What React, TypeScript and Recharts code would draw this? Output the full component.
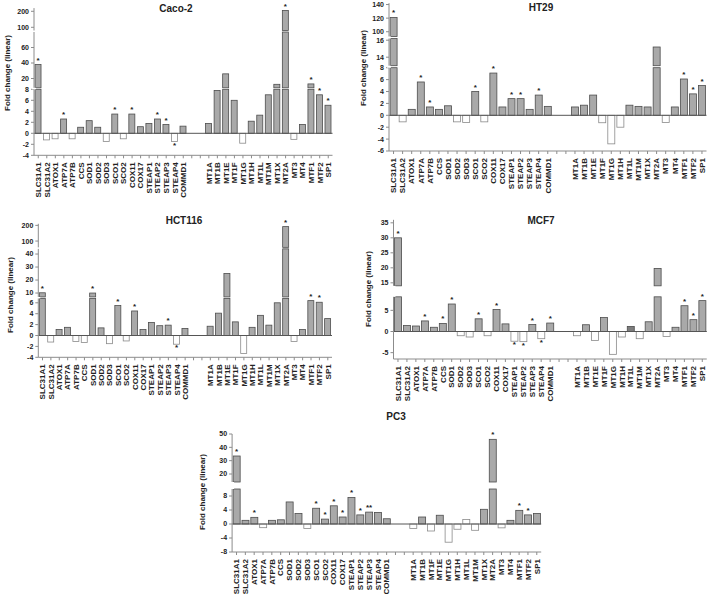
import React from 'react';
import { BarChart, Bar, XAxis, YAxis, ReferenceLine } from 'recharts';

const FONT = '"Liberation Sans", Arial, Helvetica, sans-serif';
const AXIS = '#8c8c8c';
const TEXT = '#222';

const COPPER_GENES = ['SLC31A1', 'SLC31A2', 'ATOX1', 'ATP7A', 'ATP7B', 'CCS', 'SOD1', 'SOD2', 'SOD3', 'SCO1', 'SCO2', 'COX11', 'COX17', 'STEAP1', 'STEAP2', 'STEAP3', 'STEAP4', 'COMMD1'];
const MT_GENES = ['MT1A', 'MT1B', 'MT1E', 'MT1F', 'MT1G', 'MT1H', 'MT1L', 'MT1M', 'MT1X', 'MT2A', 'MT3', 'MT4', 'MTF1', 'MTF2', 'SP1'];
const MT_GENES_PC3 = ['MT1A', 'MT1B', 'MT1F', 'MT1E', 'MT1G', 'MT1H', 'MT1L', 'MT1M', 'MT1X', 'MT2A', 'MT3', 'MT4', 'MTF1', 'MTF2', 'SP1'];

// fold changes
const CACO2_COPPER = [38, -1.2, -1.0, 2.6, -1.0, 1.1, 2.3, 1.1, -1.5, 3.5, -1.0, 3.5, 1.2, 1.8, 2.6, 1.6, -1.5, 1.3];
const CACO2_MT = [1.8, 7.8, 26, 6.0, -1.8, 2.2, 3.3, 7.0, 12.5, 205, -1.1, 1.6, 13, 7.0, 5.1];
const CACO2_SIG = ['SLC31A1', 'ATP7A', 'SCO1', 'COX11', 'STEAP2', 'STEAP3', 'STEAP4', 'MT2A', 'MTF1', 'MTF2', 'SP1'];
const CACO2_TICKS = [-4, -2, 0, 2, 4, 6, 8, 20, 40, 60, 100, 200];

const HT29_COPPER = [121, -1.1, 1.0, 5.6, 1.4, 1.0, 1.6, -1.1, -1.2, 4.0, -1.1, 7.1, 1.4, 2.8, 2.8, 1.0, 3.4, 1.5];
const HT29_MT = [1.4, 1.7, 3.4, -1.25, -4.8, -2.0, 1.7, 1.5, 1.4, 15.2, -1.2, 1.4, 6.1, 3.6, 5.0];
const HT29_SIG = ['SLC31A1', 'ATP7A', 'ATP7B', 'SCO1', 'COX11', 'STEAP1', 'STEAP2', 'STEAP4', 'MTF1', 'MTF2', 'SP1'];
const HT29_TICKS = [-6, -4, -2, 0, 2, 4, 6, 8, 14, 16, 100, 120, 140];

const HCT116_COPPER = [10.2, -1.2, 1.1, 1.5, -1.1, -1.3, 10, 1.4, -1.5, 5.5, -1.0, 4.5, 1.1, 2.4, 1.8, 1.9, -1.6, 1.3];
const HCT116_MT = [1.7, 4.1, 25, 2.5, -3.3, 1.5, 3.7, 1.9, 6.0, 192, -1.1, 1.1, 6.4, 6.1, 3.1];
const HCT116_SIG = ['SLC31A1', 'SOD1', 'SCO1', 'COX11', 'STEAP3', 'STEAP4', 'MT2A', 'MTF1', 'MTF2'];
const HCT116_TICKS = [-4, -2, 0, 2, 4, 6, 10, 20, 30, 40, 100, 200];

const MCF7_COPPER = [30, 1.4, 1.3, 2.5, 1.0, 1.9, 6.5, -1.0, -1.3, 3.0, -1.0, 5.2, 1.8, -2.3, -2.4, 1.65, -1.7, 2.0];
const MCF7_MT = [-1.0, 1.6, -2.1, 3.3, -5.4, -1.3, 1.2, -1.7, 2.3, 19.8, -1.2, 1.0, 6.1, 2.8, 7.3];
const MCF7_SIG = ['SLC31A1', 'ATP7A', 'CCS', 'SOD1', 'SCO1', 'COX11', 'STEAP1', 'STEAP2', 'STEAP3', 'STEAP4', 'COMMD1', 'MTF1', 'MTF2', 'SP1'];
const MCF7_DARK = ['MT1L'];
const MCF7_TICKS = [-5, 0, 5, 15, 20, 25, 30, 35];

const PC3_COPPER = [33.5, 1.05, 1.9, -1.05, 1.05, 1.2, 6.3, 3.0, -1.3, 4.5, 1.4, 5.2, 2.0, 7.6, 2.6, 3.4, 3.3, 1.5];
const PC3_MT = [-1.3, 2.0, -2.0, 2.5, -5.2, -1.5, 1.3, -1.8, 4.2, 46, -1.1, 1.05, 3.9, 2.6, 3.0];
// STEAP3 listed twice -> "**"
const PC3_SIG = ['SLC31A1', 'ATOX1', 'SCO1', 'SCO2', 'COX11', 'COX17', 'STEAP1', 'STEAP2', 'STEAP3', 'STEAP3', 'MT2A', 'MTF1', 'MTF2'];
const PC3_OPEN = ['MT1L'];
const PC3_TICKS = [-8, -4, 0, 4, 8, 20, 30, 40, 50];

const X_AXIS_H = 46;

// broken axis: segments [from, to, px per unit] with gaps in px between them
function makeScale(segs: number[][], gaps: number[]) {
  const starts: number[] = [];
  let acc = 0;
  segs.forEach(([lo, hi, ppu], i) => {
    starts.push(acc);
    acc += (hi - lo) * ppu;
    if (i < gaps.length) acc += gaps[i];
  });
  const total = acc;
  const toDisp = (v: number) => {
    for (let i = 0; i < segs.length; i++) {
      const [lo, hi, ppu] = segs[i];
      if (v <= hi || i === segs.length - 1) {
        if (v < lo && i > 0) return starts[i];
        return starts[i] + (Math.min(v, hi) - lo) * ppu;
      }
    }
    return total;
  };
  const breaks = segs.slice(0, -1).map((s, i) => [starts[i] + (s[1] - s[0]) * s[2], starts[i + 1]]);
  return { toDisp, total, breaks };
}

const BarShape = (props: any) => {
  const { x, y, width, height, payload, breaks } = props;
  if (!payload || payload.v == null || !payload.range) return null;
  const top = Math.min(y, y + height);
  const h = Math.abs(height);
  const [lo, hi] = payload.range;
  const pos = payload.v >= 0;
  const px = (d: number) => top + h - ((d - lo) / (hi - lo || 1)) * h;

  const pieces: number[][] = [];
  let cur = lo;
  breaks.forEach(([b0, b1]: number[]) => {
    if (b0 > lo && b1 < hi) {
      pieces.push([cur, b0]);
      cur = b1;
    }
  });
  pieces.push([cur, hi]);

  const open = !pos || payload.open;
  const fill = open ? '#ffffff' : payload.dark ? '#7d7d7d' : '#a9a9a9';
  const stroke = open ? '#8a8a8a' : '#4d4d4d';
  const cx = x + width / 2;

  return (
    <g>
      {pieces.map(([d0, d1], i) => (
        <rect key={i} x={x} y={px(d1)} width={width} height={Math.max(px(d0) - px(d1), 0)}
          fill={fill} stroke={stroke} strokeWidth={0.8} />
      ))}
      {payload.star && (
        <text x={cx} y={pos ? top - 2 : top + h + 6} textAnchor="middle" fontSize={8}
          fontWeight="bold" fontFamily={FONT} fill={TEXT}>{payload.star}</text>
      )}
    </g>
  );
};

const XTick = (props: any) => {
  const { x, y, payload } = props;
  const name = String(payload.value);
  if (name.startsWith('_')) return null;
  return (
    <text x={x} y={y} transform={`rotate(-90 ${x} ${y})`} textAnchor="end" dy="0.35em"
      fontSize={8} fontWeight="bold" fontFamily={FONT} fill={TEXT}>{name}</text>
  );
};

const YTick = (props: any) => {
  const { y, payload, info, axisX } = props;
  const t = info.get(payload.value);
  if (!t) return null;
  if (t.brk) {
    return <rect x={axisX - 2} y={y - t.h / 2} width={4} height={t.h} fill="#ffffff" />;
  }
  return (
    <g>
      <line x1={axisX - 3} x2={axisX} y1={y} y2={y} stroke={AXIS} />
      <text x={axisX - 5} y={y} dy="0.35em" textAnchor="end" fontSize={7} fontWeight="bold"
        fontFamily={FONT} fill={TEXT}>{t.label}</text>
    </g>
  );
};

type Cfg = {
  title: string; mt: string[]; copper: number[]; mtVals: number[]; sig: string[];
  open?: string[]; dark?: string[]; ticks: number[];
  segs: number[][]; gaps: number[];
  left: number; top: number; plotLeft: number; plotRight: number; plotBottom: number;
  titleX: number; titleY: number; labelX: number; labelY: number;
};

const PANELS: Cfg[] = [
  {
    title: 'Caco-2', mt: MT_GENES, copper: CACO2_COPPER, mtVals: CACO2_MT, sig: CACO2_SIG, ticks: CACO2_TICKS,
    segs: [[-4, 8, 5.5], [8, 80, 0.775], [80, 220, 0.16]], gaps: [1.5, 1.5],
    left: 0, top: 0, plotLeft: 34, plotRight: 332.5, plotBottom: 155.3,
    titleX: 176, titleY: 8, labelX: 7, labelY: 73,
  },
  {
    title: 'HT29', mt: MT_GENES, copper: HT29_COPPER, mtVals: HT29_MT, sig: HT29_SIG, ticks: HT29_TICKS,
    segs: [[-6, 8, 5.95], [13, 16.2, 8.5], [93, 142, 0.68]], gaps: [2, 2],
    left: 360, top: 0, plotLeft: 389, plotRight: 706.5, plotBottom: 151,
    titleX: 541, titleY: 7, labelX: 363, labelY: 68,
  },
  {
    title: 'HCT116', mt: MT_GENES, copper: HCT116_COPPER, mtVals: HCT116_MT, sig: HCT116_SIG, ticks: HCT116_TICKS,
    segs: [[-4, 6.8, 5.45], [7, 44, 1.3], [60, 210, 0.157]], gaps: [1.5, 1.5],
    left: 0, top: 215, plotLeft: 38.3, plotRight: 332, plotBottom: 357.3,
    titleX: 184, titleY: 220, labelX: 10, labelY: 295,
  },
  {
    title: 'MCF7', mt: MT_GENES, copper: MCF7_COPPER, mtVals: MCF7_MT, sig: MCF7_SIG, dark: MCF7_DARK, ticks: MCF7_TICKS,
    segs: [[-6.5, 8.2, 4.23], [14, 36, 3]], gaps: [11],
    left: 360, top: 215, plotLeft: 393.5, plotRight: 706.75, plotBottom: 359,
    titleX: 541, titleY: 220, labelX: 368, labelY: 289,
  },
  {
    title: 'PC3', mt: MT_GENES_PC3, copper: PC3_COPPER, mtVals: PC3_MT, sig: PC3_SIG, open: PC3_OPEN, ticks: PC3_TICKS,
    segs: [[-8, 10, 3.5], [14, 50, 1.3333]], gaps: [7],
    left: 180, top: 420, plotLeft: 232.1, plotRight: 541.2, plotBottom: 552,
    titleX: 396, titleY: 416, labelX: 202, labelY: 492,
  },
];

function Panel({ cfg }: { cfg: Cfg }) {
  const scale = makeScale(cfg.segs, cfg.gaps);
  const zero = scale.toDisp(0);
  const names = [...COPPER_GENES, '_1', '_2', ...cfg.mt];
  const vals: (number | null)[] = [...cfg.copper, null, null, ...cfg.mtVals];
  const rows = names.map((name, i) => {
    const v = vals[i];
    if (v == null) return { name, v: null, range: null };
    const d = scale.toDisp(v);
    return {
      name, v,
      range: [Math.min(zero, d), Math.max(zero, d)],
      star: '*'.repeat(cfg.sig.filter((s) => s === name).length),
      open: (cfg.open || []).includes(name),
      dark: (cfg.dark || []).includes(name),
    };
  });

  const info = new Map<number, any>();
  const tickVals: number[] = [];
  cfg.ticks.forEach((t) => {
    const d = scale.toDisp(t);
    tickVals.push(d);
    info.set(d, { label: String(t) });
  });
  scale.breaks.forEach(([b0, b1]) => {
    const d = (b0 + b1) / 2;
    tickVals.push(d);
    info.set(d, { brk: true, h: b1 - b0 });
  });

  const yw = cfg.plotLeft - cfg.left;
  const marginTop = cfg.plotBottom - scale.total - cfg.top;
  const width = Math.ceil(cfg.plotRight - cfg.left) + 3;
  const marginRight = width - (cfg.plotRight - cfg.left);
  const height = Math.ceil(marginTop + scale.total + X_AXIS_H) + 1;
  const marginBottom = height - marginTop - scale.total - X_AXIS_H;

  return (
    <>
      <div style={{ position: 'absolute', left: cfg.left, top: cfg.top }}>
        <BarChart width={width} height={height} data={rows} barCategoryGap="12%"
          margin={{ top: marginTop, right: marginRight, bottom: marginBottom, left: 0 }}
          style={{ overflow: 'visible' }}>
          <XAxis dataKey="name" interval={0} height={X_AXIS_H} tickSize={3} tickMargin={4}
            stroke={AXIS} tick={<XTick />} />
          <YAxis type="number" domain={[0, scale.total]} width={yw}
            ticks={tickVals} interval={0} tickLine={false} tickSize={3} tickMargin={2}
            stroke={AXIS} tick={<YTick info={info} axisX={yw} />} />
          <ReferenceLine y={zero} stroke="#555" strokeWidth={1} />
          <Bar dataKey="range" isAnimationActive={false}
            shape={(p: any) => <BarShape {...p} breaks={scale.breaks} />} />
        </BarChart>
      </div>
      <div style={{
        position: 'absolute', left: cfg.titleX, top: cfg.titleY, transform: 'translate(-50%, -50%)',
        fontFamily: FONT, fontWeight: 'bold', fontSize: 10, color: TEXT, whiteSpace: 'nowrap',
      }}>{cfg.title}</div>
      <div style={{
        position: 'absolute', left: cfg.labelX, top: cfg.labelY, transform: 'translate(-50%, -50%) rotate(-90deg)',
        fontFamily: FONT, fontWeight: 'bold', fontSize: 8, color: TEXT, whiteSpace: 'nowrap',
      }}>Fold change (linear)</div>
    </>
  );
}

export default function App() {
  return (
    <div style={{ position: 'absolute', left: 0, top: 0, width: 709, height: 594, overflow: 'hidden', background: '#fff' }}>
      {PANELS.map((cfg) => <Panel key={cfg.title} cfg={cfg} />)}
    </div>
  );
}
